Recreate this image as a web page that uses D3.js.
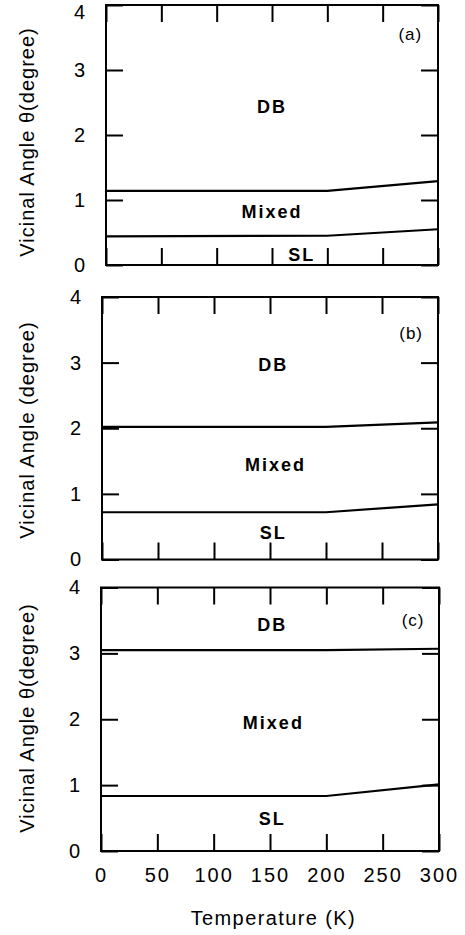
<!DOCTYPE html>
<html>
<head>
<meta charset="utf-8">
<script src="https://cdn.jsdelivr.net/npm/d3@7"></script>
<style>
  html, body { margin: 0; padding: 0; background: #fff; }
  svg { display: block; }
  text { font-family: "Liberation Sans", Arial, sans-serif; fill: #000; }
</style>
</head>
<body>
<svg id="chart" width="465" height="935"></svg>
<script>
// ---------- data ----------
const temperatures = [0, 200, 300];
const panelNames = ["(a)", "(b)", "(c)"];
const yLabels = ["Vicinal Angle \u03B8(degree)", "Vicinal Angle (degree)", "Vicinal Angle \u03B8(degree)"];
const upperA = [1.14, 1.14, 1.29];
const lowerA = [0.44, 0.45, 0.55];
const upperB = [2.02, 2.02, 2.09];
const lowerB = [0.72, 0.72, 0.84];
const upperC = [3.05, 3.05, 3.07];
const lowerC = [0.835, 0.835, 1.01];
const regionNames = ["DB", "Mixed", "SL"];
// region label anchor points (temperature, angle)
const regionPosA = [[150, 2.43], [150, 0.82], [177, 0.15]];
const regionPosB = [[153, 2.96], [155, 1.44], [153, 0.40]];
const regionPosC = [[152, 3.43], [153, 1.95], [152, 0.48]];
const tagPos = [[275, 3.54], [276, 3.44], [277, 3.50]];
const xTicks = [0, 50, 100, 150, 200, 250, 300];
const yTicks = [0, 1, 2, 3, 4];
const xTitle = "Temperature (K)";
const xTitlePos = 153;

// ---------- layout ----------
const frames = [
  { left: 106, right: 438, top: 5, bottom: 265, ylabY: 142 },
  { left: 102, right: 438, top: 297, bottom: 559.5, ylabY: 430 },
  { left: 101, right: 439, top: 587.5, bottom: 851, ylabY: 718 }
];
const panels = [
  { upper: upperA, lower: lowerA, regions: regionPosA },
  { upper: upperB, lower: lowerB, regions: regionPosB },
  { upper: upperC, lower: lowerC, regions: regionPosC }
];
const TICK = 17;

const svg = d3.select("#chart");

panels.forEach((p, i) => {
  const f = frames[i];
  const x = d3.scaleLinear().domain([0, 300]).range([f.left, f.right]);
  const y = d3.scaleLinear().domain([0, 4]).range([f.bottom, f.top]);
  const g = svg.append("g");
  const last = i === panels.length - 1;

  const bAxis = d3.axisBottom(x).tickValues(xTicks).tickSizeInner(-TICK).tickSizeOuter(0).tickPadding(17)
    .tickFormat(last ? d3.format("d") : () => "");
  const gb = g.append("g").attr("transform", `translate(0,${f.bottom})`).call(bAxis);
  const tAxis = d3.axisTop(x).tickValues(xTicks).tickSizeInner(-TICK).tickSizeOuter(0).tickFormat(() => "");
  const gt = g.append("g").attr("transform", `translate(0,${f.top})`).call(tAxis);
  const lAxis = d3.axisLeft(y).tickValues(yTicks).tickSizeInner(-TICK).tickSizeOuter(0).tickPadding(21)
    .tickFormat(d3.format("d"));
  const gl = g.append("g").attr("transform", `translate(${f.left},0)`).call(lAxis);
  const rAxis = d3.axisRight(y).tickValues(yTicks).tickSizeInner(-TICK).tickSizeOuter(0).tickFormat(() => "");
  const gr = g.append("g").attr("transform", `translate(${f.right},0)`).call(rAxis);

  [gb, gt, gl, gr].forEach(a => {
    a.select(".domain").remove();
    a.selectAll(".tick line").attr("stroke", "#000").attr("stroke-width", 2);
    a.selectAll(".tick text")
      .style("font-family", '"Liberation Sans", Arial, sans-serif')
      .style("font-size", "20px").attr("fill", "#000");
  });
  gb.selectAll(".tick text").style("letter-spacing", "2px");
  // keep the topmost label of the first panel inside the page
  if (i === 0) {
    gl.selectAll(".tick text").filter(d => d === 4).attr("dy", "0.66em");
  }

  g.append("rect")
    .attr("x", x(0)).attr("y", y(4))
    .attr("width", x(300) - x(0)).attr("height", y(0) - y(4))
    .attr("fill", "none").attr("stroke", "#000").attr("stroke-width", 2);

  const line = d3.line().x((d, k) => x(temperatures[k])).y(d => y(d));
  [p.upper, p.lower].forEach(series => {
    g.append("path").datum(series).attr("d", line)
      .attr("fill", "none").attr("stroke", "#000").attr("stroke-width", 2.2);
  });

  regionNames.forEach((name, k) => {
    g.append("text")
      .attr("x", x(p.regions[k][0])).attr("y", y(p.regions[k][1]))
      .attr("text-anchor", "middle").attr("dominant-baseline", "central")
      .style("font-size", "18px").style("font-weight", "bold").style("letter-spacing", "2px")
      .text(name);
  });

  g.append("text")
    .attr("x", x(tagPos[i][0])).attr("y", y(tagPos[i][1]))
    .attr("text-anchor", "middle").attr("dominant-baseline", "central")
    .style("font-size", "17px").style("letter-spacing", "1px")
    .text(panelNames[i]);

  g.append("text")
    .attr("transform", `translate(27,${f.ylabY}) rotate(-90)`)
    .attr("text-anchor", "middle").attr("dominant-baseline", "central")
    .style("font-size", "20px").style("letter-spacing", "1px")
    .text(yLabels[i]);

  if (last) {
    g.append("text")
      .attr("x", x(xTitlePos)).attr("y", 918)
      .attr("text-anchor", "middle").attr("dominant-baseline", "central")
      .style("font-size", "20px").style("letter-spacing", "1.4px")
      .text(xTitle);
  }
});
</script>
</body>
</html>
